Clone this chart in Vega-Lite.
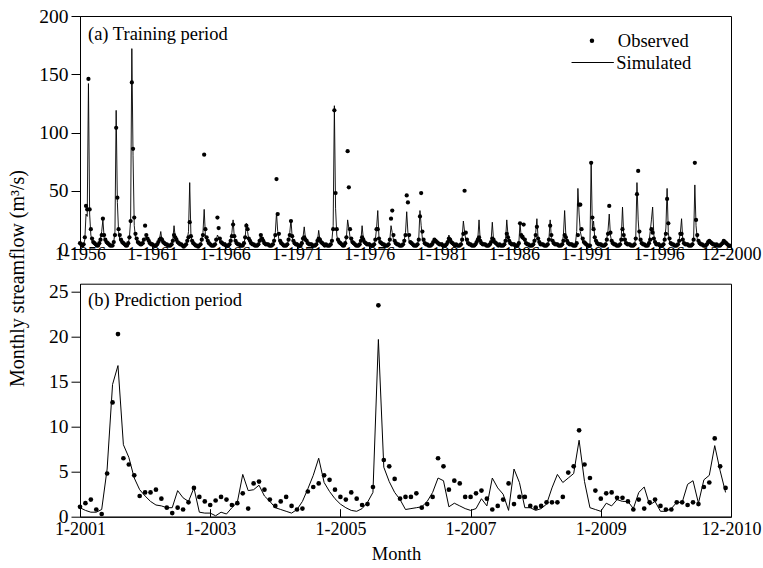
{
"$schema": "https://vega.github.io/schema/vega-lite/v6.json",
"background": "white",
"padding": {"left": 6, "top": 5, "right": 5, "bottom": 5},
"config": {
  "font": "Liberation Serif",
  "view": {"stroke": "black", "strokeWidth": 1},
  "axis": {"domainColor": "black", "tickColor": "black", "labelColor": "black", "titleColor": "black", "labelFont": "Liberation Serif", "titleFont": "Liberation Serif", "titleFontWeight": "normal", "grid": false, "labelOverlap": false, "labelFlush": false},
  "legend": {"labelFont": "Liberation Serif", "labelColor": "black", "labelFontSize": 18.5}
},
"datasets": {
"train": [
{"i":0,"o":5,"s":4},{"i":1,"o":4,"s":3},{"i":2,"o":3,"s":3},{"i":3,"o":4,"s":4},{"i":4,"o":10,"s":8},{"i":5,"o":37,"s":30},{"i":6,"o":34,"s":28},{"i":7,"o":146,"s":142},{"i":8,"o":34,"s":30},{"i":9,"o":17,"s":12},{"i":10,"o":9,"s":7},{"i":11,"o":6,"s":5},
{"i":12,"o":5,"s":4},{"i":13,"o":4,"s":3},{"i":14,"o":3,"s":3},{"i":15,"o":3,"s":3},{"i":16,"o":5,"s":5},{"i":17,"o":8,"s":9},{"i":18,"o":12,"s":15},{"i":19,"o":26,"s":25},{"i":20,"o":12,"s":10},{"i":21,"o":8,"s":6},{"i":22,"o":6,"s":5},{"i":23,"o":5,"s":4},
{"i":24,"o":4,"s":3},{"i":25,"o":3,"s":3},{"i":26,"o":3,"s":3},{"i":27,"o":3,"s":3},{"i":28,"o":6,"s":6},{"i":29,"o":12,"s":15},{"i":30,"o":104,"s":119},{"i":31,"o":44,"s":40},{"i":32,"o":17,"s":15},{"i":33,"o":12,"s":8},{"i":34,"o":8,"s":6},{"i":35,"o":6,"s":5},
{"i":36,"o":5,"s":4},{"i":37,"o":4,"s":3},{"i":38,"o":3,"s":3},{"i":39,"o":3,"s":3},{"i":40,"o":5,"s":5},{"i":41,"o":10,"s":10},{"i":42,"o":24,"s":25},{"i":43,"o":143,"s":172},{"i":44,"o":86,"s":80},{"i":45,"o":27,"s":20},{"i":46,"o":13,"s":10},{"i":47,"o":9,"s":7},
{"i":48,"o":6,"s":5},{"i":49,"o":5,"s":4},{"i":50,"o":4,"s":3},{"i":51,"o":4,"s":3},{"i":52,"o":5,"s":4},{"i":53,"o":8,"s":7},{"i":54,"o":20,"s":10},{"i":55,"o":12,"s":9},{"i":56,"o":9,"s":7},{"i":57,"o":7,"s":5},{"i":58,"o":5,"s":4},{"i":59,"o":4,"s":4},
{"i":60,"o":4,"s":3},{"i":61,"o":3,"s":3},{"i":62,"o":3,"s":2},{"i":63,"o":3,"s":3},{"i":64,"o":4,"s":4},{"i":65,"o":6,"s":6},{"i":66,"o":8,"s":9},{"i":67,"o":9,"s":15},{"i":68,"o":8,"s":7},{"i":69,"o":6,"s":5},{"i":70,"o":5,"s":4},{"i":71,"o":4,"s":3},
{"i":72,"o":4,"s":3},{"i":73,"o":3,"s":3},{"i":74,"o":3,"s":2},{"i":75,"o":3,"s":3},{"i":76,"o":4,"s":4},{"i":77,"o":7,"s":8},{"i":78,"o":12,"s":20},{"i":79,"o":10,"s":10},{"i":80,"o":8,"s":6},{"i":81,"o":6,"s":5},{"i":82,"o":5,"s":4},{"i":83,"o":4,"s":3},
{"i":84,"o":4,"s":3},{"i":85,"o":3,"s":2},{"i":86,"o":2,"s":2},{"i":87,"o":3,"s":2},{"i":88,"o":4,"s":4},{"i":89,"o":7,"s":8},{"i":90,"o":10,"s":15},{"i":91,"o":23,"s":57},{"i":92,"o":11,"s":12},{"i":93,"o":7,"s":6},{"i":94,"o":5,"s":4},{"i":95,"o":4,"s":3},
{"i":96,"o":3,"s":3},{"i":97,"o":3,"s":2},{"i":98,"o":2,"s":2},{"i":99,"o":3,"s":2},{"i":100,"o":4,"s":4},{"i":101,"o":8,"s":8},{"i":102,"o":12,"s":14},{"i":103,"o":81,"s":34},{"i":104,"o":17,"s":12},{"i":105,"o":10,"s":7},{"i":106,"o":7,"s":5},{"i":107,"o":5,"s":4},
{"i":108,"o":4,"s":3},{"i":109,"o":3,"s":3},{"i":110,"o":3,"s":2},{"i":111,"o":3,"s":3},{"i":112,"o":4,"s":4},{"i":113,"o":8,"s":7},{"i":114,"o":27,"s":12},{"i":115,"o":18,"s":10},{"i":116,"o":9,"s":7},{"i":117,"o":6,"s":5},{"i":118,"o":5,"s":4},{"i":119,"o":4,"s":3},
{"i":120,"o":4,"s":3},{"i":121,"o":3,"s":3},{"i":122,"o":3,"s":2},{"i":123,"o":3,"s":3},{"i":124,"o":4,"s":4},{"i":125,"o":7,"s":8},{"i":126,"o":11,"s":14},{"i":127,"o":21,"s":25},{"i":128,"o":11,"s":10},{"i":129,"o":7,"s":6},{"i":130,"o":5,"s":4},{"i":131,"o":4,"s":3},
{"i":132,"o":4,"s":3},{"i":133,"o":3,"s":3},{"i":134,"o":3,"s":2},{"i":135,"o":3,"s":3},{"i":136,"o":5,"s":5},{"i":137,"o":10,"s":10},{"i":138,"o":20,"s":22},{"i":139,"o":17,"s":15},{"i":140,"o":9,"s":8},{"i":141,"o":7,"s":6},{"i":142,"o":5,"s":4},{"i":143,"o":4,"s":3},
{"i":144,"o":4,"s":3},{"i":145,"o":3,"s":3},{"i":146,"o":3,"s":2},{"i":147,"o":3,"s":3},{"i":148,"o":4,"s":4},{"i":149,"o":7,"s":8},{"i":150,"o":12,"s":13},{"i":151,"o":9,"s":9},{"i":152,"o":7,"s":6},{"i":153,"o":5,"s":4},{"i":154,"o":4,"s":4},{"i":155,"o":4,"s":3},
{"i":156,"o":4,"s":3},{"i":157,"o":3,"s":3},{"i":158,"o":3,"s":2},{"i":159,"o":3,"s":3},{"i":160,"o":4,"s":4},{"i":161,"o":7,"s":8},{"i":162,"o":12,"s":14},{"i":163,"o":60,"s":31},{"i":164,"o":30,"s":15},{"i":165,"o":13,"s":8},{"i":166,"o":7,"s":5},{"i":167,"o":5,"s":4},
{"i":168,"o":4,"s":3},{"i":169,"o":3,"s":3},{"i":170,"o":3,"s":2},{"i":171,"o":3,"s":3},{"i":172,"o":4,"s":4},{"i":173,"o":8,"s":8},{"i":174,"o":12,"s":14},{"i":175,"o":24,"s":25},{"i":176,"o":11,"s":10},{"i":177,"o":7,"s":6},{"i":178,"o":5,"s":4},{"i":179,"o":4,"s":3},
{"i":180,"o":4,"s":3},{"i":181,"o":3,"s":3},{"i":182,"o":3,"s":2},{"i":183,"o":3,"s":3},{"i":184,"o":5,"s":5},{"i":185,"o":9,"s":10},{"i":186,"o":10,"s":19},{"i":187,"o":8,"s":9},{"i":188,"o":7,"s":6},{"i":189,"o":5,"s":4},{"i":190,"o":4,"s":4},{"i":191,"o":4,"s":3},
{"i":192,"o":4,"s":3},{"i":193,"o":3,"s":3},{"i":194,"o":3,"s":2},{"i":195,"o":3,"s":3},{"i":196,"o":4,"s":4},{"i":197,"o":7,"s":7},{"i":198,"o":9,"s":16},{"i":199,"o":8,"s":8},{"i":200,"o":6,"s":5},{"i":201,"o":5,"s":4},{"i":202,"o":4,"s":3},{"i":203,"o":3,"s":3},
{"i":204,"o":4,"s":3},{"i":205,"o":3,"s":3},{"i":206,"o":3,"s":2},{"i":207,"o":3,"s":3},{"i":208,"o":4,"s":4},{"i":209,"o":7,"s":8},{"i":210,"o":17,"s":20},{"i":211,"o":119,"s":123},{"i":212,"o":48,"s":35},{"i":213,"o":17,"s":12},{"i":214,"o":8,"s":6},{"i":215,"o":6,"s":4},
{"i":216,"o":5,"s":4},{"i":217,"o":4,"s":3},{"i":218,"o":3,"s":3},{"i":219,"o":3,"s":3},{"i":220,"o":5,"s":5},{"i":221,"o":10,"s":10},{"i":222,"o":84,"s":25},{"i":223,"o":53,"s":18},{"i":224,"o":17,"s":10},{"i":225,"o":9,"s":6},{"i":226,"o":6,"s":5},{"i":227,"o":5,"s":4},
{"i":228,"o":4,"s":3},{"i":229,"o":3,"s":3},{"i":230,"o":3,"s":2},{"i":231,"o":3,"s":3},{"i":232,"o":4,"s":4},{"i":233,"o":7,"s":7},{"i":234,"o":10,"s":20},{"i":235,"o":8,"s":9},{"i":236,"o":6,"s":6},{"i":237,"o":5,"s":4},{"i":238,"o":4,"s":3},{"i":239,"o":4,"s":3},
{"i":240,"o":4,"s":3},{"i":241,"o":3,"s":3},{"i":242,"o":3,"s":2},{"i":243,"o":3,"s":3},{"i":244,"o":4,"s":4},{"i":245,"o":8,"s":8},{"i":246,"o":17,"s":18},{"i":247,"o":17,"s":33},{"i":248,"o":9,"s":10},{"i":249,"o":6,"s":6},{"i":250,"o":5,"s":4},{"i":251,"o":4,"s":3},
{"i":252,"o":4,"s":3},{"i":253,"o":3,"s":3},{"i":254,"o":3,"s":2},{"i":255,"o":3,"s":3},{"i":256,"o":4,"s":4},{"i":257,"o":8,"s":8},{"i":258,"o":26,"s":20},{"i":259,"o":33,"s":14},{"i":260,"o":12,"s":8},{"i":261,"o":7,"s":5},{"i":262,"o":5,"s":4},{"i":263,"o":4,"s":3},
{"i":264,"o":4,"s":3},{"i":265,"o":3,"s":3},{"i":266,"o":3,"s":2},{"i":267,"o":3,"s":3},{"i":268,"o":4,"s":4},{"i":269,"o":7,"s":8},{"i":270,"o":12,"s":14},{"i":271,"o":46,"s":32},{"i":272,"o":40,"s":14},{"i":273,"o":12,"s":7},{"i":274,"o":6,"s":5},{"i":275,"o":5,"s":4},
{"i":276,"o":4,"s":3},{"i":277,"o":3,"s":3},{"i":278,"o":3,"s":2},{"i":279,"o":3,"s":3},{"i":280,"o":4,"s":4},{"i":281,"o":8,"s":9},{"i":282,"o":28,"s":33},{"i":283,"o":48,"s":20},{"i":284,"o":15,"s":9},{"i":285,"o":8,"s":5},{"i":286,"o":5,"s":4},{"i":287,"o":4,"s":3},
{"i":288,"o":4,"s":3},{"i":289,"o":3,"s":3},{"i":290,"o":3,"s":2},{"i":291,"o":3,"s":3},{"i":292,"o":4,"s":4},{"i":293,"o":6,"s":6},{"i":294,"o":8,"s":9},{"i":295,"o":7,"s":8},{"i":296,"o":6,"s":5},{"i":297,"o":5,"s":4},{"i":298,"o":4,"s":3},{"i":299,"o":4,"s":3},
{"i":300,"o":4,"s":3},{"i":301,"o":3,"s":3},{"i":302,"o":3,"s":2},{"i":303,"o":3,"s":3},{"i":304,"o":4,"s":4},{"i":305,"o":6,"s":6},{"i":306,"o":9,"s":12},{"i":307,"o":8,"s":8},{"i":308,"o":6,"s":5},{"i":309,"o":5,"s":4},{"i":310,"o":4,"s":3},{"i":311,"o":3,"s":3},
{"i":312,"o":4,"s":3},{"i":313,"o":3,"s":3},{"i":314,"o":3,"s":2},{"i":315,"o":3,"s":3},{"i":316,"o":4,"s":4},{"i":317,"o":8,"s":10},{"i":318,"o":13,"s":24},{"i":319,"o":50,"s":15},{"i":320,"o":14,"s":8},{"i":321,"o":8,"s":5},{"i":322,"o":5,"s":4},{"i":323,"o":4,"s":3},
{"i":324,"o":4,"s":3},{"i":325,"o":3,"s":3},{"i":326,"o":3,"s":2},{"i":327,"o":3,"s":3},{"i":328,"o":4,"s":4},{"i":329,"o":6,"s":6},{"i":330,"o":8,"s":9},{"i":331,"o":10,"s":25},{"i":332,"o":7,"s":7},{"i":333,"o":5,"s":5},{"i":334,"o":4,"s":4},{"i":335,"o":4,"s":3},
{"i":336,"o":4,"s":3},{"i":337,"o":3,"s":3},{"i":338,"o":3,"s":2},{"i":339,"o":3,"s":3},{"i":340,"o":4,"s":4},{"i":341,"o":6,"s":7},{"i":342,"o":9,"s":23},{"i":343,"o":8,"s":8},{"i":344,"o":6,"s":5},{"i":345,"o":5,"s":4},{"i":346,"o":4,"s":3},{"i":347,"o":3,"s":3},
{"i":348,"o":4,"s":3},{"i":349,"o":3,"s":3},{"i":350,"o":3,"s":2},{"i":351,"o":3,"s":3},{"i":352,"o":4,"s":4},{"i":353,"o":7,"s":8},{"i":354,"o":13,"s":25},{"i":355,"o":10,"s":12},{"i":356,"o":7,"s":7},{"i":357,"o":5,"s":5},{"i":358,"o":4,"s":4},{"i":359,"o":4,"s":3},
{"i":360,"o":4,"s":3},{"i":361,"o":3,"s":3},{"i":362,"o":3,"s":2},{"i":363,"o":3,"s":3},{"i":364,"o":5,"s":5},{"i":365,"o":22,"s":22},{"i":366,"o":12,"s":10},{"i":367,"o":10,"s":8},{"i":368,"o":21,"s":12},{"i":369,"o":8,"s":6},{"i":370,"o":5,"s":4},{"i":371,"o":4,"s":3},
{"i":372,"o":4,"s":3},{"i":373,"o":3,"s":3},{"i":374,"o":3,"s":2},{"i":375,"o":3,"s":3},{"i":376,"o":4,"s":4},{"i":377,"o":7,"s":8},{"i":378,"o":12,"s":14},{"i":379,"o":19,"s":26},{"i":380,"o":9,"s":9},{"i":381,"o":6,"s":5},{"i":382,"o":4,"s":4},{"i":383,"o":4,"s":3},
{"i":384,"o":4,"s":3},{"i":385,"o":3,"s":3},{"i":386,"o":3,"s":2},{"i":387,"o":3,"s":3},{"i":388,"o":4,"s":4},{"i":389,"o":8,"s":9},{"i":390,"o":20,"s":25},{"i":391,"o":12,"s":10},{"i":392,"o":7,"s":6},{"i":393,"o":5,"s":4},{"i":394,"o":4,"s":3},{"i":395,"o":4,"s":3},
{"i":396,"o":4,"s":3},{"i":397,"o":3,"s":3},{"i":398,"o":3,"s":2},{"i":399,"o":3,"s":3},{"i":400,"o":4,"s":5},{"i":401,"o":7,"s":12},{"i":402,"o":12,"s":33},{"i":403,"o":10,"s":12},{"i":404,"o":7,"s":6},{"i":405,"o":5,"s":4},{"i":406,"o":4,"s":3},{"i":407,"o":4,"s":3},
{"i":408,"o":4,"s":3},{"i":409,"o":3,"s":3},{"i":410,"o":3,"s":2},{"i":411,"o":3,"s":5},{"i":412,"o":5,"s":15},{"i":413,"o":12,"s":52},{"i":414,"o":38,"s":30},{"i":415,"o":38,"s":15},{"i":416,"o":17,"s":10},{"i":417,"o":9,"s":6},{"i":418,"o":6,"s":4},{"i":419,"o":5,"s":3},
{"i":420,"o":4,"s":3},{"i":421,"o":3,"s":3},{"i":422,"o":3,"s":2},{"i":423,"o":3,"s":3},{"i":424,"o":74,"s":74},{"i":425,"o":27,"s":18},{"i":426,"o":17,"s":24},{"i":427,"o":10,"s":9},{"i":428,"o":7,"s":6},{"i":429,"o":5,"s":4},{"i":430,"o":4,"s":3},{"i":431,"o":4,"s":3},
{"i":432,"o":4,"s":3},{"i":433,"o":3,"s":3},{"i":434,"o":3,"s":2},{"i":435,"o":3,"s":3},{"i":436,"o":4,"s":4},{"i":437,"o":8,"s":9},{"i":438,"o":13,"s":16},{"i":439,"o":37,"s":30},{"i":440,"o":14,"s":12},{"i":441,"o":7,"s":6},{"i":442,"o":5,"s":4},{"i":443,"o":4,"s":3},
{"i":444,"o":4,"s":3},{"i":445,"o":3,"s":3},{"i":446,"o":3,"s":2},{"i":447,"o":3,"s":3},{"i":448,"o":4,"s":4},{"i":449,"o":8,"s":10},{"i":450,"o":17,"s":36},{"i":451,"o":12,"s":12},{"i":452,"o":8,"s":6},{"i":453,"o":5,"s":4},{"i":454,"o":4,"s":3},{"i":455,"o":4,"s":3},
{"i":456,"o":4,"s":3},{"i":457,"o":3,"s":3},{"i":458,"o":3,"s":2},{"i":459,"o":3,"s":3},{"i":460,"o":4,"s":4},{"i":461,"o":9,"s":10},{"i":462,"o":47,"s":57},{"i":463,"o":67,"s":25},{"i":464,"o":15,"s":10},{"i":465,"o":8,"s":5},{"i":466,"o":5,"s":4},{"i":467,"o":4,"s":3},
{"i":468,"o":4,"s":3},{"i":469,"o":3,"s":3},{"i":470,"o":3,"s":2},{"i":471,"o":3,"s":3},{"i":472,"o":5,"s":6},{"i":473,"o":8,"s":15},{"i":474,"o":17,"s":25},{"i":475,"o":14,"s":36},{"i":476,"o":9,"s":12},{"i":477,"o":6,"s":6},{"i":478,"o":4,"s":4},{"i":479,"o":4,"s":3},
{"i":480,"o":4,"s":3},{"i":481,"o":3,"s":3},{"i":482,"o":3,"s":2},{"i":483,"o":3,"s":3},{"i":484,"o":4,"s":4},{"i":485,"o":8,"s":9},{"i":486,"o":13,"s":18},{"i":487,"o":43,"s":52},{"i":488,"o":22,"s":14},{"i":489,"o":9,"s":6},{"i":490,"o":5,"s":4},{"i":491,"o":4,"s":3},
{"i":492,"o":4,"s":3},{"i":493,"o":3,"s":3},{"i":494,"o":3,"s":2},{"i":495,"o":3,"s":3},{"i":496,"o":4,"s":4},{"i":497,"o":7,"s":8},{"i":498,"o":13,"s":14},{"i":499,"o":13,"s":26},{"i":500,"o":8,"s":8},{"i":501,"o":5,"s":5},{"i":502,"o":4,"s":4},{"i":503,"o":4,"s":3},
{"i":504,"o":4,"s":3},{"i":505,"o":3,"s":3},{"i":506,"o":3,"s":2},{"i":507,"o":3,"s":3},{"i":508,"o":4,"s":4},{"i":509,"o":8,"s":9},{"i":510,"o":74,"s":55},{"i":511,"o":25,"s":20},{"i":512,"o":12,"s":9},{"i":513,"o":7,"s":5},{"i":514,"o":5,"s":4},{"i":515,"o":4,"s":3},
{"i":516,"o":4,"s":3},{"i":517,"o":3,"s":3},{"i":518,"o":3,"s":2},{"i":519,"o":3,"s":3},{"i":520,"o":4,"s":4},{"i":521,"o":6,"s":6},{"i":522,"o":7,"s":8},{"i":523,"o":6,"s":7},{"i":524,"o":5,"s":5},{"i":525,"o":4,"s":4},{"i":526,"o":4,"s":3},{"i":527,"o":3,"s":3},
{"i":528,"o":4,"s":3},{"i":529,"o":3,"s":3},{"i":530,"o":3,"s":2},{"i":531,"o":3,"s":3},{"i":532,"o":4,"s":4},{"i":533,"o":5,"s":5},{"i":534,"o":7,"s":8},{"i":535,"o":6,"s":6},{"i":536,"o":5,"s":5},{"i":537,"o":4,"s":4},{"i":538,"o":3,"s":3},{"i":539,"o":3,"s":3}
],
"pred": [
{"i":0,"o":1.1,"s":1.0},{"i":1,"o":1.5,"s":0.7},{"i":2,"o":1.9,"s":0.5},{"i":3,"o":0.8,"s":0.5},{"i":4,"o":0.3,"s":0.8},{"i":5,"o":4.8,"s":5.3},{"i":6,"o":12.7,"s":14.7},{"i":7,"o":20.3,"s":16.8},{"i":8,"o":6.5,"s":8.0},{"i":9,"o":5.8,"s":6.6},{"i":10,"o":4.6,"s":4.3},{"i":11,"o":2.3,"s":3.0},
{"i":12,"o":2.7,"s":2.3},{"i":13,"o":2.7,"s":1.7},{"i":14,"o":3.0,"s":1.3},{"i":15,"o":2.0,"s":1.2},{"i":16,"o":1.0,"s":1.0},{"i":17,"o":0.4,"s":1.0},{"i":18,"o":1.0,"s":2.9},{"i":19,"o":0.8,"s":2.1},{"i":20,"o":1.6,"s":1.7},{"i":21,"o":3.2,"s":3.2},{"i":22,"o":2.2,"s":0.5},{"i":23,"o":1.7,"s":0.4},
{"i":24,"o":1.3,"s":0.4},{"i":25,"o":1.8,"s":0.1},{"i":26,"o":2.2,"s":0.5},{"i":27,"o":1.9,"s":0.3},{"i":28,"o":1.3,"s":1.0},{"i":29,"o":1.5,"s":1.6},{"i":30,"o":2.6,"s":4.7},{"i":31,"o":0.9,"s":2.9},{"i":32,"o":3.7,"s":3.0},{"i":33,"o":3.9,"s":3.5},{"i":34,"o":3.0,"s":2.3},{"i":35,"o":1.9,"s":1.7},
{"i":36,"o":1.2,"s":1.0},{"i":37,"o":1.7,"s":0.8},{"i":38,"o":2.2,"s":0.6},{"i":39,"o":1.2,"s":0.4},{"i":40,"o":0.8,"s":0.8},{"i":41,"o":0.9,"s":1.7},{"i":42,"o":2.8,"s":3.1},{"i":43,"o":3.3,"s":4.6},{"i":44,"o":3.7,"s":6.5},{"i":45,"o":4.6,"s":3.8},{"i":46,"o":4.1,"s":2.8},{"i":47,"o":3.0,"s":2.0},
{"i":48,"o":2.2,"s":1.4},{"i":49,"o":1.9,"s":1.0},{"i":50,"o":2.7,"s":0.7},{"i":51,"o":2.0,"s":0.6},{"i":52,"o":1.3,"s":0.9},{"i":53,"o":1.4,"s":1.6},{"i":54,"o":3.3,"s":2.7},{"i":55,"o":23.5,"s":19.7},{"i":56,"o":6.3,"s":5.5},{"i":57,"o":5.6,"s":3.9},{"i":58,"o":4.2,"s":2.7},{"i":59,"o":2.0,"s":1.9},
{"i":60,"o":2.2,"s":0.8},{"i":61,"o":2.2,"s":0.9},{"i":62,"o":2.6,"s":1.0},{"i":63,"o":1.0,"s":1.1},{"i":64,"o":1.4,"s":1.7},{"i":65,"o":2.2,"s":2.7},{"i":66,"o":6.5,"s":4.3},{"i":67,"o":5.6,"s":4.0},{"i":68,"o":3.0,"s":1.1},{"i":69,"o":4.0,"s":1.5},{"i":70,"o":3.7,"s":1.2},{"i":71,"o":2.2,"s":0.9},
{"i":72,"o":2.2,"s":0.7},{"i":73,"o":2.6,"s":0.9},{"i":74,"o":2.9,"s":2.0},{"i":75,"o":2.0,"s":1.2},{"i":76,"o":0.8,"s":4.3},{"i":77,"o":1.2,"s":3.2},{"i":78,"o":1.9,"s":2.5},{"i":79,"o":3.7,"s":0.7},{"i":80,"o":1.4,"s":5.3},{"i":81,"o":2.2,"s":3.8},{"i":82,"o":2.2,"s":1.0},{"i":83,"o":1.2,"s":1.0},
{"i":84,"o":1.0,"s":0.7},{"i":85,"o":1.2,"s":0.9},{"i":86,"o":1.6,"s":1.4},{"i":87,"o":1.6,"s":3.2},{"i":88,"o":1.6,"s":4.7},{"i":89,"o":2.2,"s":3.8},{"i":90,"o":4.9,"s":4.3},{"i":91,"o":5.6,"s":4.8},{"i":92,"o":9.6,"s":8.5},{"i":93,"o":5.8,"s":3.9},{"i":94,"o":4.3,"s":1.0},{"i":95,"o":2.9,"s":0.8},
{"i":96,"o":2.0,"s":0.6},{"i":97,"o":2.6,"s":1.5},{"i":98,"o":2.7,"s":1.2},{"i":99,"o":2.1,"s":1.9},{"i":100,"o":2.1,"s":1.7},{"i":101,"o":1.7,"s":1.7},{"i":102,"o":0.8,"s":0.9},{"i":103,"o":1.9,"s":2.7},{"i":104,"o":0.9,"s":3.3},{"i":105,"o":1.6,"s":1.3},{"i":106,"o":1.9,"s":1.7},{"i":107,"o":1.2,"s":0.6},
{"i":108,"o":0.8,"s":0.6},{"i":109,"o":0.8,"s":0.9},{"i":110,"o":1.6,"s":1.6},{"i":111,"o":1.6,"s":1.6},{"i":112,"o":1.3,"s":3.6},{"i":113,"o":1.6,"s":4.0},{"i":114,"o":1.4,"s":1.5},{"i":115,"o":3.3,"s":4.1},{"i":116,"o":3.8,"s":4.6},{"i":117,"o":8.7,"s":7.9},{"i":118,"o":5.6,"s":5.1},{"i":119,"o":3.2,"s":2.7}
]
},
"bounds": "flush",
"spacing": 34.7,
"vconcat": [
{
  "width": 651, "height": 233,
  "data": {"name": "train"},
  "title": {"text": "(a) Training period", "anchor": "start", "frame": "group", "offset": -24, "dy": 28.3, "dx": 8, "baseline": "alphabetic", "fontSize": 18.5, "fontWeight": "normal", "font": "Liberation Serif", "color": "black"},
  "encoding": {
    "x": {"field": "i", "type": "quantitative", "scale": {"domain": [0, 540], "nice": false, "zero": false},
      "axis": {"title": null, "values": [0,60,120,180,240,300,360,420,480,540], "labelExpr": "datum.value == 540 ? '12-2000' : '1-' + (1956 + datum.value/12)", "tickSize": -7, "labelPadding": 3.5, "labelFontSize": 18}}
  },
  "layer": [
    {"mark": {"type": "line", "strokeWidth": 1, "strokeOpacity": 0.9},
     "encoding": {
       "y": {"field": "s", "type": "quantitative", "scale": {"domain": [0, 200], "nice": false},
         "axis": {"title": "Monthly streamflow (m³/s)", "values": [0,50,100,150,200], "tickSize": 9, "labelPadding": 3, "labelFontSize": 19.5, "titleFontSize": 20, "titleX": -57, "titleY": 262, "titleBaseline": "alphabetic", "titleAlign": "center"}},
       "color": {"datum": "Simulated", "scale": {"domain": ["Simulated"], "range": ["black"]},
         "legend": {"orient": "none", "legendX": 490.7, "legendY": 24.5, "title": null, "symbolType": "stroke", "symbolSize": 1790, "symbolStrokeWidth": 1, "symbolStrokeColor": "black", "labelOffset": 1.6, "padding": 0, "labelFontSize": 18.5}}
     }},
    {"mark": {"type": "point", "filled": true, "color": "black", "size": 18, "opacity": 1},
     "encoding": {
       "y": {"field": "o", "type": "quantitative", "title": "Monthly streamflow (m³/s)"},
       "shape": {"datum": "Observed", "scale": {"domain": ["Observed"], "range": ["circle"]},
         "legend": {"orient": "none", "legendX": 502.7, "legendY": 15.5, "title": null, "symbolSize": 20, "symbolFillColor": "black", "symbolStrokeColor": "black", "symbolStrokeWidth": 0, "labelOffset": 16.6, "padding": 0, "labelFontSize": 18.5}}
     }}
  ]
},
{
  "width": 651, "height": 233,
  "data": {"name": "pred"},
  "title": {"text": "(b) Prediction period", "anchor": "start", "frame": "group", "offset": -21, "dy": 21.6, "dx": 8, "baseline": "alphabetic", "fontSize": 18.5, "fontWeight": "normal", "font": "Liberation Serif", "color": "black"},
  "encoding": {
    "x": {"field": "i", "type": "quantitative", "scale": {"domain": [0, 120], "nice": false, "zero": false},
      "axis": {"title": "Month", "values": [0,24,48,72,96,120], "labelExpr": "datum.value == 120 ? '12-2010' : '1-' + (2001 + datum.value/12)", "tickSize": -8, "labelPadding": 12, "labelFontSize": 18, "titleFontSize": 18.5, "titleX": 316, "titleY": 43, "titleBaseline": "alphabetic"}}
  },
  "layer": [
    {"mark": {"type": "line", "color": "black", "strokeWidth": 1},
     "encoding": {
       "y": {"field": "s", "type": "quantitative", "scale": {"domain": [0, 25.9], "nice": false},
         "axis": {"title": null, "values": [0,5,10,15,20,25], "tickSize": 9, "labelPadding": 3, "labelFontSize": 19.5}}
     }},
    {"mark": {"type": "point", "filled": true, "color": "black", "size": 22, "opacity": 1},
     "encoding": {
       "y": {"field": "o", "type": "quantitative", "title": null}
     }}
  ]
}
]
}
